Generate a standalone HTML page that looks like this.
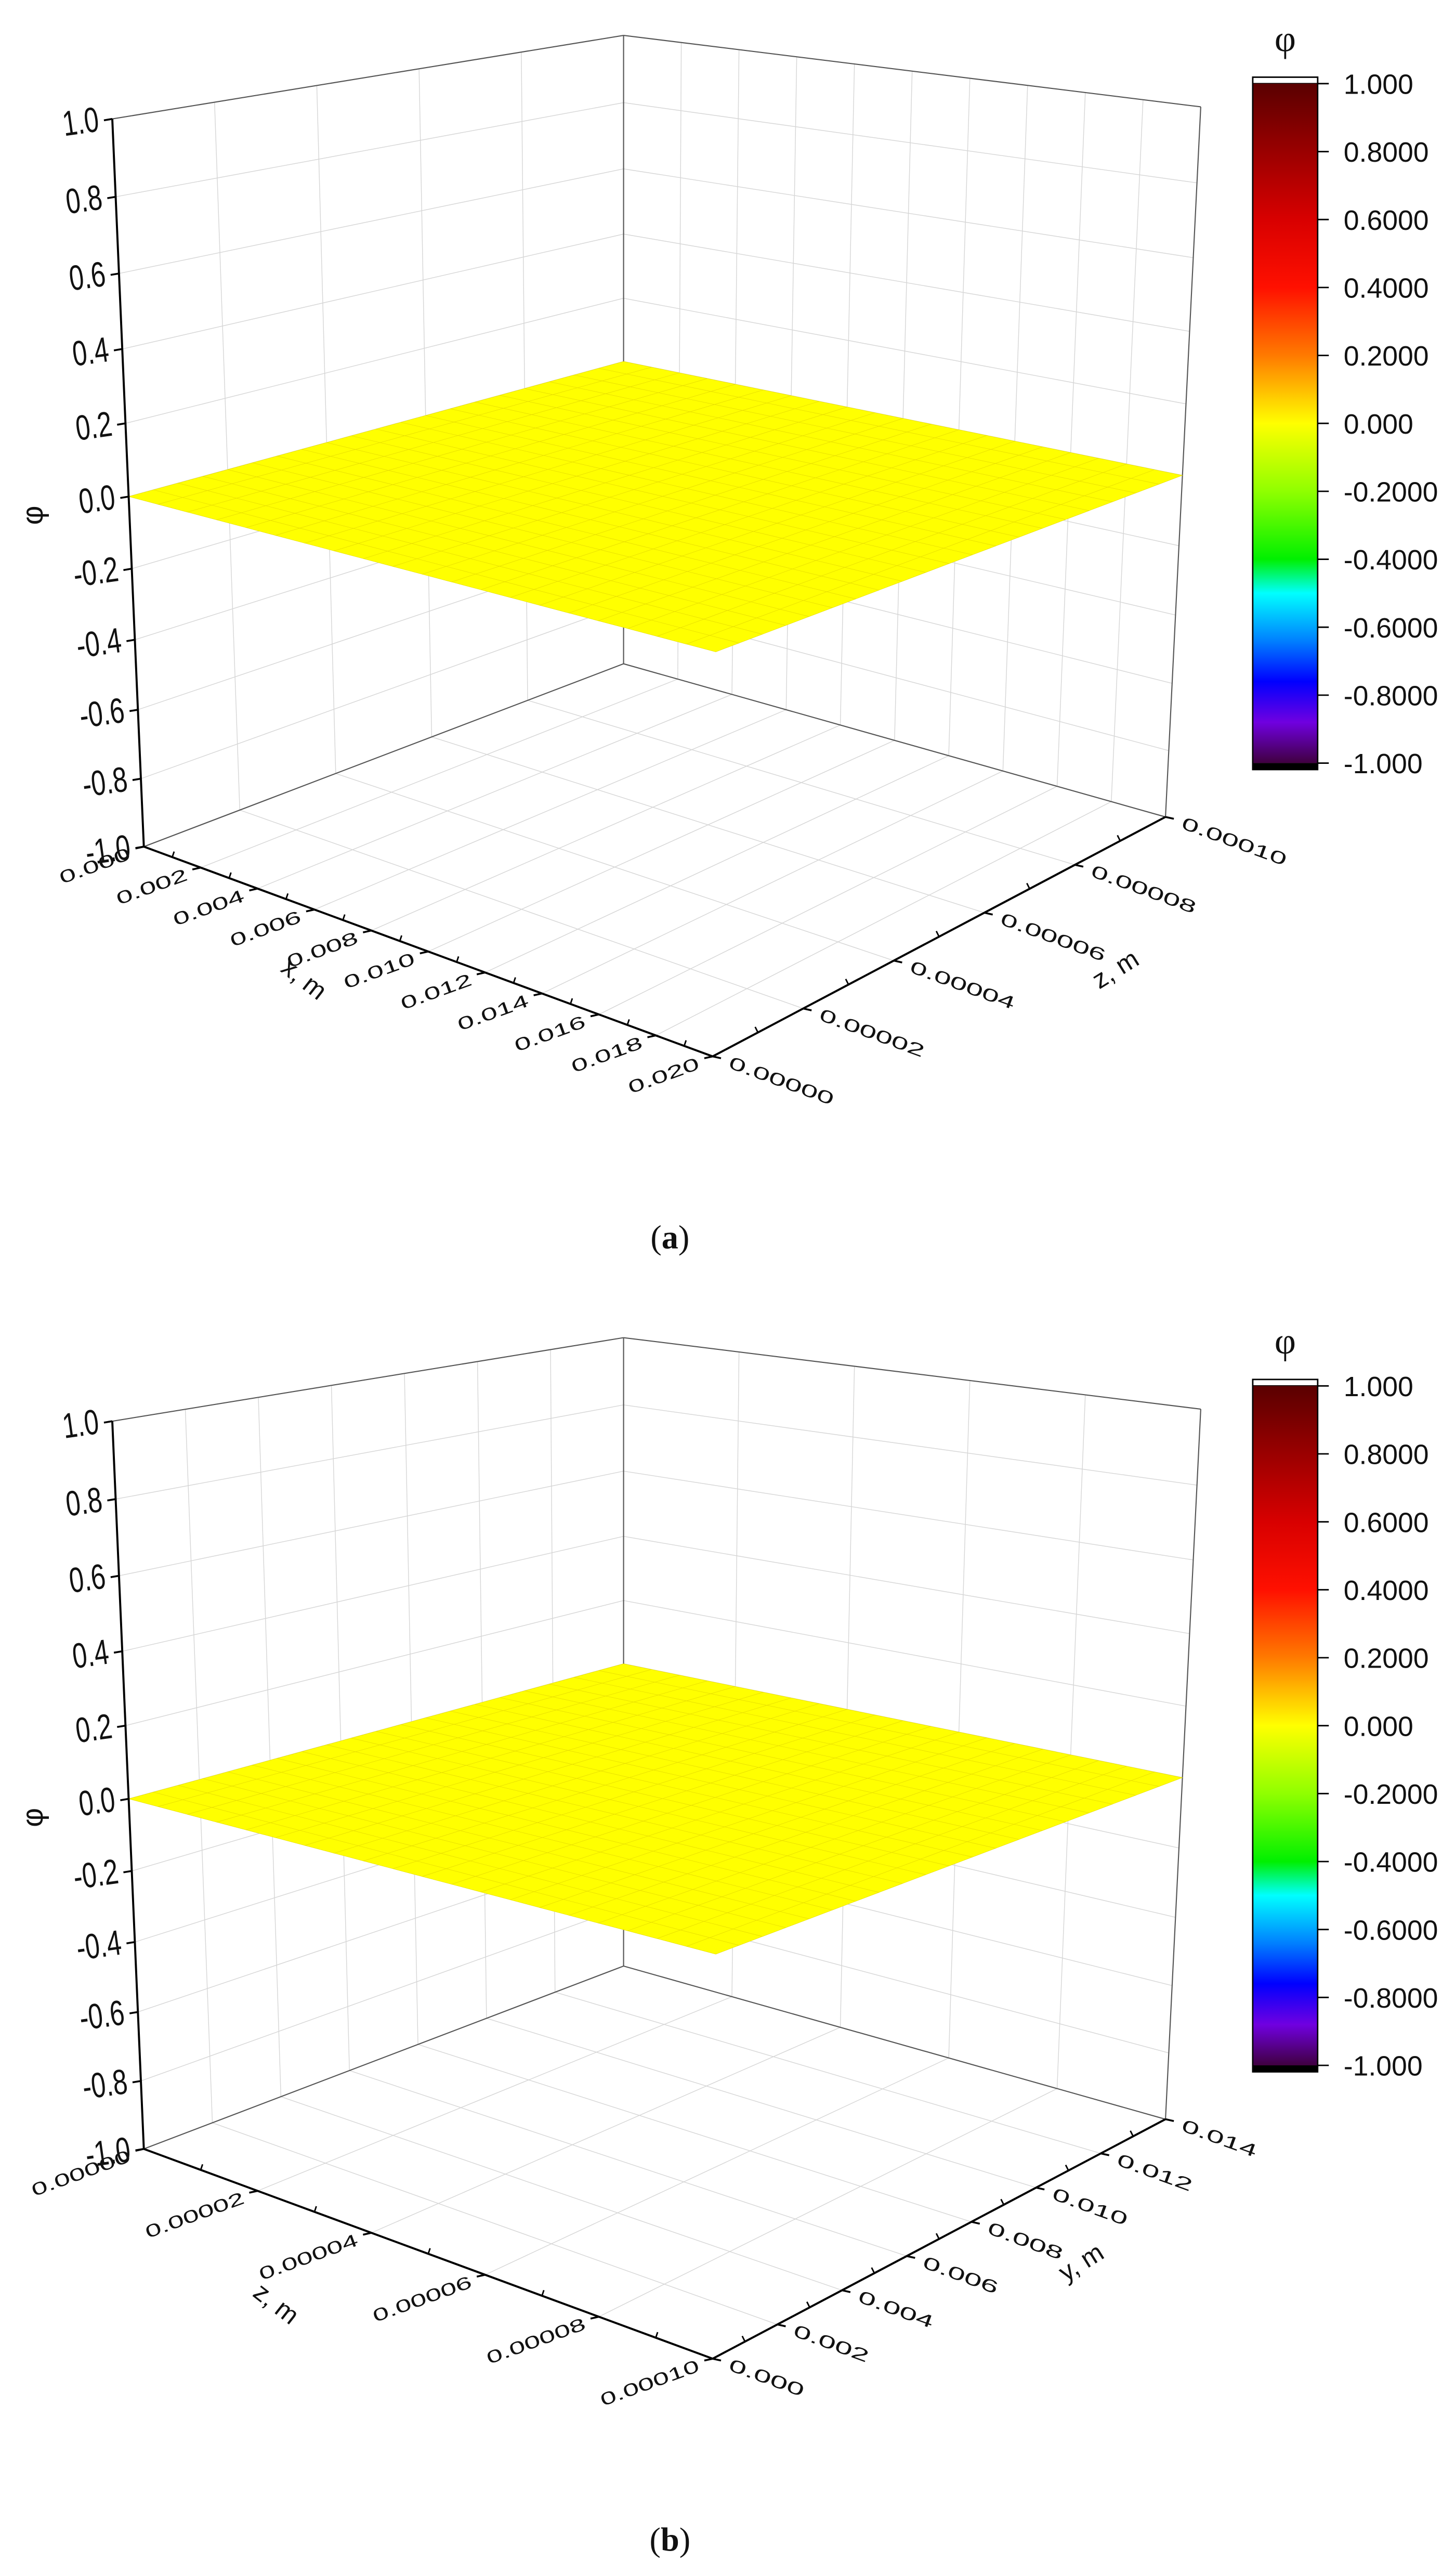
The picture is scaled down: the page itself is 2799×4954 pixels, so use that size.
<!DOCTYPE html>
<html><head><meta charset="utf-8"><title>phi surface</title>
<style>
html,body{margin:0;padding:0;background:#fff;}
svg{display:block;}
text{font-family:"Liberation Sans",Arial,sans-serif;fill:#111;}
</style></head>
<body>
<svg id="fig" xmlns="http://www.w3.org/2000/svg" width="2799" height="4954" viewBox="0 0 1568 2775">
<defs>
<linearGradient id="cbar" x1="0" y1="0" x2="0" y2="1">
<stop offset="0" stop-color="#5a0000"/>
<stop offset="0.1" stop-color="#9a0000"/>
<stop offset="0.2" stop-color="#d80000"/>
<stop offset="0.3" stop-color="#ff1000"/>
<stop offset="0.4" stop-color="#ff7a00"/>
<stop offset="0.5" stop-color="#ffff00"/>
<stop offset="0.6" stop-color="#90ff00"/>
<stop offset="0.7" stop-color="#00f000"/>
<stop offset="0.75" stop-color="#00ffff"/>
<stop offset="0.82" stop-color="#0080ff"/>
<stop offset="0.88" stop-color="#0000ff"/>
<stop offset="0.94" stop-color="#7000e0"/>
<stop offset="1" stop-color="#400040"/>
</linearGradient>
</defs>
<rect x="0" y="0" width="1568" height="2775" fill="#fff"/>
<g id="chartA"></g>
<g id="chartB" transform="translate(0,1403)"></g>
<text x="722" y="1345" text-anchor="middle" font-size="36" style="font-family:'Liberation Serif',serif">(<tspan font-weight="bold">a</tspan>)</text>
<text x="722" y="2748" text-anchor="middle" font-size="36" style="font-family:'Liberation Serif',serif">(<tspan font-weight="bold">b</tspan>)</text>
</svg>
<script>
// ---- data ----
var phiTicks = [-1.0,-0.8,-0.6,-0.4,-0.2,0.0,0.2,0.4,0.6,0.8,1.0];
var phiTickLabels = ["-1.0","-0.8","-0.6","-0.4","-0.2","0.0","0.2","0.4","0.6","0.8","1.0"];
var cbarTicks = [1.0,0.8,0.6,0.4,0.2,0.0,-0.2,-0.4,-0.6,-0.8,-1.0];
var cbarLabels = ["1.000","0.8000","0.6000","0.4000","0.2000","0.000","-0.2000","-0.4000","-0.6000","-0.8000","-1.000"];
// chart a: front axis x, right axis z
var aFrontTicks = [0,0.002,0.004,0.006,0.008,0.010,0.012,0.014,0.016,0.018,0.020];
var aFrontLabels = ["0.000","0.002","0.004","0.006","0.008","0.010","0.012","0.014","0.016","0.018","0.020"];
var aRightTicks = [0,0.00002,0.00004,0.00006,0.00008,0.00010];
var aRightLabels = ["0.00000","0.00002","0.00004","0.00006","0.00008","0.00010"];
// chart b: front axis z, right axis y
var bFrontTicks = [0,0.00002,0.00004,0.00006,0.00008,0.00010];
var bFrontLabels = ["0.00000","0.00002","0.00004","0.00006","0.00008","0.00010"];
var bRightTicks = [0,0.002,0.004,0.006,0.008,0.010,0.012,0.014];
var bRightLabels = ["0.000","0.002","0.004","0.006","0.008","0.010","0.012","0.014"];
var phiA = [
[0,0,0,0,0,0,0,0,0,0,0,0,0,0,0,0,0,0,0,0,0],[0,0,0,0,0,0,0,0,0,0,0,0,0,0,0,0,0,0,0,0,0],
[0,0,0,0,0,0,0,0,0,0,0,0,0,0,0,0,0,0,0,0,0],[0,0,0,0,0,0,0,0,0,0,0,0,0,0,0,0,0,0,0,0,0],
[0,0,0,0,0,0,0,0,0,0,0,0,0,0,0,0,0,0,0,0,0],[0,0,0,0,0,0,0,0,0,0,0,0,0,0,0,0,0,0,0,0,0],
[0,0,0,0,0,0,0,0,0,0,0,0,0,0,0,0,0,0,0,0,0],[0,0,0,0,0,0,0,0,0,0,0,0,0,0,0,0,0,0,0,0,0],
[0,0,0,0,0,0,0,0,0,0,0,0,0,0,0,0,0,0,0,0,0],[0,0,0,0,0,0,0,0,0,0,0,0,0,0,0,0,0,0,0,0,0],
[0,0,0,0,0,0,0,0,0,0,0,0,0,0,0,0,0,0,0,0,0],[0,0,0,0,0,0,0,0,0,0,0,0,0,0,0,0,0,0,0,0,0],
[0,0,0,0,0,0,0,0,0,0,0,0,0,0,0,0,0,0,0,0,0],[0,0,0,0,0,0,0,0,0,0,0,0,0,0,0,0,0,0,0,0,0],
[0,0,0,0,0,0,0,0,0,0,0,0,0,0,0,0,0,0,0,0,0],[0,0,0,0,0,0,0,0,0,0,0,0,0,0,0,0,0,0,0,0,0],
[0,0,0,0,0,0,0,0,0,0,0,0,0,0,0,0,0,0,0,0,0],[0,0,0,0,0,0,0,0,0,0,0,0,0,0,0,0,0,0,0,0,0],
[0,0,0,0,0,0,0,0,0,0,0,0,0,0,0,0,0,0,0,0,0],[0,0,0,0,0,0,0,0,0,0,0,0,0,0,0,0,0,0,0,0,0],
[0,0,0,0,0,0,0,0,0,0,0,0,0,0,0,0,0,0,0,0,0]];
var phiB = [
[0,0,0,0,0,0,0,0,0,0,0,0,0,0,0,0,0,0,0,0,0],[0,0,0,0,0,0,0,0,0,0,0,0,0,0,0,0,0,0,0,0,0],
[0,0,0,0,0,0,0,0,0,0,0,0,0,0,0,0,0,0,0,0,0],[0,0,0,0,0,0,0,0,0,0,0,0,0,0,0,0,0,0,0,0,0],
[0,0,0,0,0,0,0,0,0,0,0,0,0,0,0,0,0,0,0,0,0],[0,0,0,0,0,0,0,0,0,0,0,0,0,0,0,0,0,0,0,0,0],
[0,0,0,0,0,0,0,0,0,0,0,0,0,0,0,0,0,0,0,0,0],[0,0,0,0,0,0,0,0,0,0,0,0,0,0,0,0,0,0,0,0,0],
[0,0,0,0,0,0,0,0,0,0,0,0,0,0,0,0,0,0,0,0,0],[0,0,0,0,0,0,0,0,0,0,0,0,0,0,0,0,0,0,0,0,0],
[0,0,0,0,0,0,0,0,0,0,0,0,0,0,0,0,0,0,0,0,0],[0,0,0,0,0,0,0,0,0,0,0,0,0,0,0,0,0,0,0,0,0],
[0,0,0,0,0,0,0,0,0,0,0,0,0,0,0,0,0,0,0,0,0],[0,0,0,0,0,0,0,0,0,0,0,0,0,0,0,0,0,0,0,0,0],
[0,0,0,0,0,0,0,0,0,0,0,0,0,0,0,0,0,0,0,0,0],[0,0,0,0,0,0,0,0,0,0,0,0,0,0,0,0,0,0,0,0,0],
[0,0,0,0,0,0,0,0,0,0,0,0,0,0,0,0,0,0,0,0,0],[0,0,0,0,0,0,0,0,0,0,0,0,0,0,0,0,0,0,0,0,0],
[0,0,0,0,0,0,0,0,0,0,0,0,0,0,0,0,0,0,0,0,0],[0,0,0,0,0,0,0,0,0,0,0,0,0,0,0,0,0,0,0,0,0],
[0,0,0,0,0,0,0,0,0,0,0,0,0,0,0,0,0,0,0,0,0]];

// ---- geometry ----
var NS = "http://www.w3.org/2000/svg";
var FL = {L:[155,912], F:[768,1138], R:[1256,880], B:[672,715]};
var TP = {L:[121,128], F:[775,232], R:[1294,115], B:[672,38]};
function tOf(v){var s=(v+1)/2,k=-0.073;return s*(1+k)/(1+k*s);}
function bil(C,u,w){
  return [C.L[0]*(1-u)*(1-w)+C.F[0]*u*(1-w)+C.R[0]*u*w+C.B[0]*(1-u)*w,
          C.L[1]*(1-u)*(1-w)+C.F[1]*u*(1-w)+C.R[1]*u*w+C.B[1]*(1-u)*w];
}
function P(u,w,v){var a=bil(FL,u,w),b=bil(TP,u,w),t=tOf(v);return [a[0]+(b[0]-a[0])*t,a[1]+(b[1]-a[1])*t];}
function el(parent,tag,attrs){var e=document.createElementNS(NS,tag);for(var k in attrs)e.setAttribute(k,attrs[k]);parent.appendChild(e);return e;}
function line(g,a,b,col,w,name){
  var e=el(g,"line",{x1:a[0].toFixed(2),y1:a[1].toFixed(2),x2:b[0].toFixed(2),y2:b[1].toFixed(2),stroke:col,"stroke-width":w});
  
  
  return e;
}
function colorOf(v){
  if(v>=0){var r=255,g=Math.round(255*(1-v*2.5));if(g<0)g=0;return "rgb("+r+","+g+",0)";}
  var a=-v;return "rgb("+Math.round(255*(1-a*2.5<0?0:1-a*2.5))+",255,0)";
}

function drawChart(g, frontTicks, frontLabels, rightTicks, rightLabels, phi, titles){
  var fMin=frontTicks[0],fMax=frontTicks[frontTicks.length-1];
  var rMin=rightTicks[0],rMax=rightTicks[rightTicks.length-1];
  function uOf(x){return (x-fMin)/(fMax-fMin);}
  function wOf(x){return (x-rMin)/(rMax-rMin);}
  var grid="#d6d6d6";
  rightTicks.forEach(function(x){line(g,P(0,wOf(x),-1),P(0,wOf(x),1),grid,0.8,"left-wall-gridline");});
  frontTicks.forEach(function(x){line(g,P(uOf(x),1,-1),P(uOf(x),1,1),grid,0.8,"right-wall-gridline");});
  phiTicks.forEach(function(v){
    line(g,P(0,0,v),P(0,1,v),grid,0.8,"left-wall-hgrid");
    line(g,P(0,1,v),P(1,1,v),grid,0.8,"right-wall-hgrid");
  });
  frontTicks.forEach(function(x){line(g,P(uOf(x),0,-1),P(uOf(x),1,-1),grid,0.8,"floor-gridline");});
  rightTicks.forEach(function(x){line(g,P(0,wOf(x),-1),P(1,wOf(x),-1),grid,0.8,"floor-gridline");});
  var ec="#555";
  line(g,P(0,0,1),P(0,1,1),ec,1.2,"box-edge");
  line(g,P(0,1,1),P(1,1,1),ec,1.2,"box-edge");
  line(g,P(0,1,-1),P(0,1,1),ec,1.2,"box-edge");
  line(g,P(1,1,-1),P(1,1,1),ec,1.2,"box-edge");
  line(g,P(0,0,-1),P(0,1,-1),ec,1.2,"box-edge");
  line(g,P(0,1,-1),P(1,1,-1),ec,1.2,"box-edge");
  var n=phi.length-1,m=phi[0].length-1;
  var sg=el(g,"g",{});
  
  
  for(var i=0;i<n;i++){for(var j=0;j<m;j++){
    var u0=i/n,u1=(i+1)/n,w0=j/m,w1=(j+1)/m;
    var a=P(u0,w0,phi[i][j]),b=P(u1,w0,phi[i+1][j]),c=P(u1,w1,phi[i+1][j+1]),d=P(u0,w1,phi[i][j+1]);
    var avg=(phi[i][j]+phi[i+1][j]+phi[i+1][j+1]+phi[i][j+1])/4;
    var q=el(sg,"polygon",{points:[a,b,c,d].map(function(p){return p[0].toFixed(2)+","+p[1].toFixed(2);}).join(" "),fill:colorOf(avg),stroke:"#e6dc00","stroke-width":0.4});
    
    
  }}
  line(g,P(0,0,-1),P(0,0,1),"#000",2.2,"phi-axis-line");
  line(g,P(0,0,-1),P(1,0,-1),"#000",2.2,"front-axis-line");
  line(g,P(1,0,-1),P(1,1,-1),"#000",2.2,"right-axis-line");
  phiTicks.forEach(function(v,i){
    var p=P(0,0,v);
    line(g,p,[p[0]-9,p[1]+1.5],"#000",2,"phi-tick");
    var t=el(g,"text",{x:0,y:0,"font-size":38,"text-anchor":"end",
      transform:"translate("+(p[0]-13).toFixed(1)+","+(p[1]+13).toFixed(1)+") rotate(-8) scale(0.74,1)"});
    t.textContent=phiTickLabels[i];
    
    
  });
  for(var k=0;k<frontTicks.length;k++){
    var p=P(uOf(frontTicks[k]),0,-1);
    line(g,p,[p[0]-9,p[1]+2],"#000",2,"front-axis-tick");
    if(k<frontTicks.length-1){
      var pm=P((uOf(frontTicks[k])+uOf(frontTicks[k+1]))/2,0,-1);
      line(g,pm,[pm[0]+2,pm[1]-6],"#000",1.6,"front-axis-minor-tick");
    }
    var s=frontLabels[k];
    var t=el(g,"text",{x:0,y:0,"font-size":19,"text-anchor":"end",textLength:(s.length*16).toFixed(0),lengthAdjust:"spacingAndGlyphs",
      transform:"translate("+(p[0]-13).toFixed(1)+","+(p[1]+13).toFixed(1)+") rotate(-20)"});
    t.textContent=s;
    
    
  }
  for(var k=0;k<rightTicks.length;k++){
    var p=P(1,wOf(rightTicks[k]),-1);
    line(g,p,[p[0]+9,p[1]+2],"#000",2,"right-axis-tick");
    if(k<rightTicks.length-1){
      var pm=P(1,(wOf(rightTicks[k])+wOf(rightTicks[k+1]))/2,-1);
      line(g,pm,[pm[0]-3,pm[1]-6],"#000",1.6,"right-axis-minor-tick");
    }
    var s=rightLabels[k];
    var t=el(g,"text",{x:0,y:0,"font-size":19,"text-anchor":"start",textLength:(s.length*17).toFixed(0),lengthAdjust:"spacingAndGlyphs",
      transform:"translate("+(p[0]+16).toFixed(1)+","+(p[1]+12).toFixed(1)+") rotate(20)"});
    t.textContent=s;
    
    
  }
  var t1=el(g,"text",{x:0,y:0,"font-size":28,"text-anchor":"middle",transform:"translate("+titles.f[0]+","+titles.f[1]+") rotate(38)"});
  t1.textContent=titles.f[2];
  
  
  var t2=el(g,"text",{x:0,y:0,"font-size":28,"text-anchor":"middle",transform:"translate("+titles.r[0]+","+titles.r[1]+") rotate(-32)"});
  t2.textContent=titles.r[2];
  
  
  var t3=el(g,"text",{x:0,y:0,"font-size":32,"text-anchor":"middle",transform:"translate(46,555) rotate(-90)"});
  t3.textContent="φ";
  
  
  var cb=el(g,"g",{});
  
  
  var top=90,bot=822;
  el(cb,"rect",{x:1350,y:83,width:70,height:7,fill:"#fff",stroke:"#000","stroke-width":1.5});
  el(cb,"rect",{x:1350,y:top,width:70,height:bot-top,fill:"url(#cbar)"});
  el(cb,"rect",{x:1350,y:bot,width:70,height:7,fill:"#000"});
  el(cb,"rect",{x:1350,y:83,width:70,height:746,fill:"none",stroke:"#000","stroke-width":1.5});
  cbarTicks.forEach(function(v,i){
    var y=top+(1-v)/2*(bot-top);
    line(cb,[1420,y],[1432,y],"#000",1.6,"colorbar-tick");
    var t=el(cb,"text",{x:1448,y:(y+11).toFixed(1),"font-size":30});
    t.textContent=cbarLabels[i];
    
    
  });
  var ct=el(cb,"text",{x:1385,y:55,"font-size":40,"text-anchor":"middle",style:"font-family:'Liberation Serif',serif"});
  ct.textContent="φ";
  
  
}
drawChart(document.getElementById("chartA"),aFrontTicks,aFrontLabels,aRightTicks,aRightLabels,phiA,
  {f:[322,1062,"x, m"],r:[1207,1052,"z, m"]});
drawChart(document.getElementById("chartB"),bFrontTicks,bFrontLabels,bRightTicks,bRightLabels,phiB,
  {f:[292,1086,"z, m"],r:[1170,1042,"y, m"]});
</script>
</body></html>
